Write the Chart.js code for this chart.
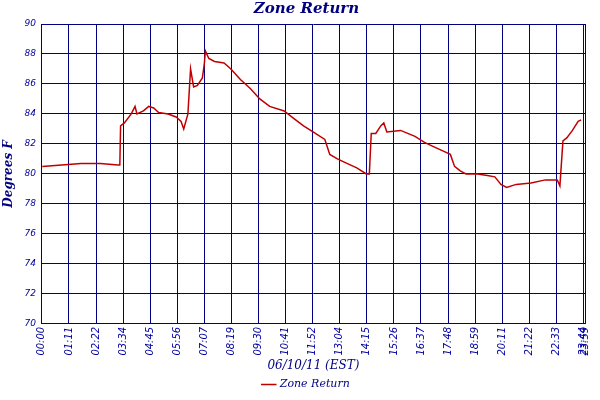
<!DOCTYPE html>
<html><head><meta charset="utf-8">
<script src="https://cdn.jsdelivr.net/npm/chart.js"></script>
<style>html,body{margin:0;padding:0;background:#fff}#w{width:600px;height:400px}</style>
</head><body><div id="w"><canvas id="c"></canvas></div>
<script>
const minutes=[1,52,103,154,200,205,207,217,235,245,250,267,281,294,307,332,353,366,373,384,391,399,409,422,427,430,439,454,479,497,522,548,573,599,637,662,688,713,744,757,777,802,828,853,861,866,878,891,899,907,943,962,981,1006,1031,1057,1074,1085,1100,1115,1146,1171,1191,1207,1222,1247,1286,1324,1355,1362,1370,1380,1395,1410,1418];
const values=[80.5,80.6,80.7,80.7,80.6,80.6,83.2,83.4,84.0,84.5,84.0,84.2,84.5,84.4,84.1,84.0,83.8,83.5,83.0,84.0,87.0,85.8,85.9,86.4,87.3,88.2,87.7,87.5,87.4,87.0,86.3,85.7,85.0,84.5,84.2,83.7,83.2,82.8,82.3,81.3,81.0,80.7,80.4,80.0,80.0,82.7,82.7,83.2,83.4,82.8,82.9,82.7,82.5,82.1,81.8,81.5,81.3,80.5,80.2,80.0,80.0,79.9,79.8,79.3,79.1,79.3,79.4,79.6,79.6,79.2,82.2,82.4,82.9,83.5,83.6];
const tickLabels=["00:00","01:11","02:22","03:34","04:45","05:56","07:07","08:19","09:30","10:41","11:52","13:04","14:15","15:26","16:37","17:48","18:59","20:11","21:22","22:33","23:44","23:59"];
const tickPos=[0,71.2,142.4,213.6,284.8,356,427.2,498.4,569.6,640.8,712,783.2,854.4,925.6,996.8,1068,1139.2,1210.4,1281.6,1352.8,1424,1428];
const navy='#000080';
new Chart(document.getElementById('c'),{type:'line',
data:{datasets:[{label:'Zone Return',data:minutes.map((m,i)=>({x:m,y:values[i]})),borderColor:'#c00000',backgroundColor:'#c00000',borderWidth:1.5,pointRadius:0,tension:0,fill:false}]},
options:{responsive:true,maintainAspectRatio:false,animation:false,
layout:{padding:{left:2,right:-11,top:0,bottom:0}},
plugins:{title:{display:true,text:'Zone Return',color:navy,font:{family:'DejaVu Serif',size:15,style:'italic',weight:'bold'},padding:{top:0,bottom:6}},
legend:{position:'bottom',labels:{usePointStyle:true,pointStyle:'line',boxWidth:14,padding:6,color:navy,font:{family:'DejaVu Serif',size:11,style:'italic'}}},tooltip:{enabled:false}},
scales:{
x:{type:'linear',min:0,max:1428,
afterBuildTicks:s=>{s.ticks=tickPos.map(v=>({value:v}));},
ticks:{autoSkip:false,maxRotation:90,minRotation:90,padding:3,color:'#0000a0',font:{family:'DejaVu Sans',size:10,style:'italic'},callback:(v,i)=>tickLabels[i]},
grid:{color:navy,lineWidth:1,drawTicks:false},border:{color:navy},
title:{display:true,text:'06/10/11 (EST)',color:navy,font:{family:'DejaVu Serif',size:12,style:'italic'},padding:{top:0,bottom:0}}},
y:{min:70,max:90,ticks:{stepSize:2,color:'#0000a0',padding:6,font:{family:'DejaVu Sans',size:9,style:'italic'}},
grid:{color:navy,lineWidth:1,drawTicks:false},border:{color:navy},
title:{display:true,text:'Degrees F',color:navy,font:{family:'DejaVu Serif',size:12,style:'italic',weight:'bold'},padding:{top:0,bottom:2}}}}}});
</script></body></html>
